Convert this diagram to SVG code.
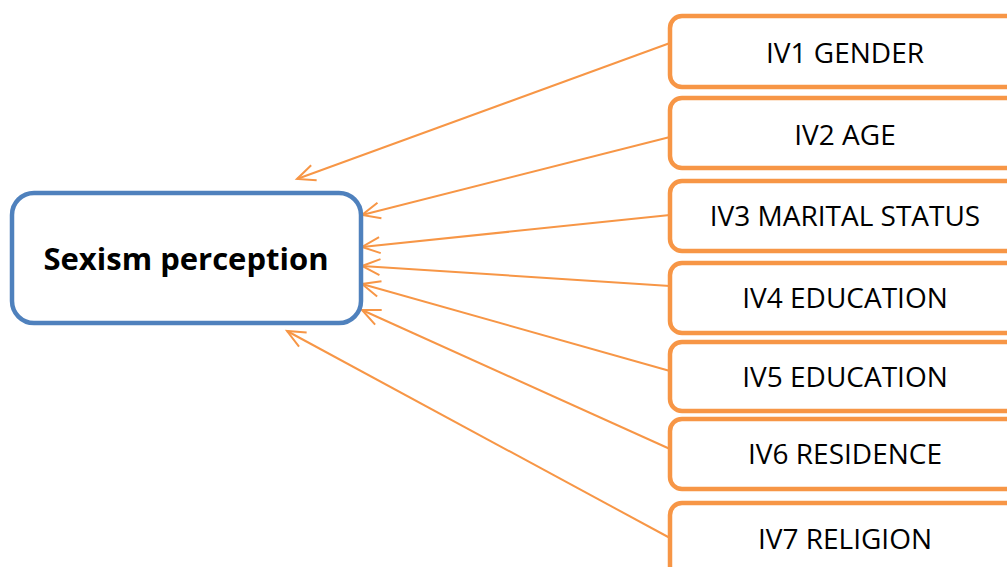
<svg xmlns="http://www.w3.org/2000/svg" width="1007" height="567" viewBox="0 0 1007 567">
<style>
.iv rect{fill:#fff;stroke:#F79646;stroke-width:4.5}
.iv text{font-family:"Open Sans",sans-serif;font-size:28px;fill:#000;text-anchor:middle}
.conn line{stroke:#F79646;stroke-width:2;fill:none}
</style>
<defs>
<marker id="ah" markerUnits="userSpaceOnUse" markerWidth="30" markerHeight="30" refX="0" refY="0" orient="auto" overflow="visible" viewBox="-25 -15 30 30">
<path d="M-18,-8 L0,0 L-18,8" fill="none" stroke="#F79646" stroke-width="2"/>
</marker>
</defs>
<rect width="1007" height="567" fill="#fff"/>
<g id="conns" class="conn">
<line x1="670" y1="43" x2="297" y2="179" marker-end="url(#ah)"/>
<line x1="670" y1="137" x2="362" y2="215" marker-end="url(#ah)"/>
<line x1="670" y1="215" x2="362" y2="247" marker-end="url(#ah)"/>
<line x1="670" y1="286" x2="362" y2="266" marker-end="url(#ah)"/>
<line x1="670" y1="371" x2="362" y2="284" marker-end="url(#ah)"/>
<line x1="670" y1="449" x2="362" y2="310" marker-end="url(#ah)"/>
<line x1="670" y1="538" x2="287" y2="331" marker-end="url(#ah)"/>
</g>
<g id="sexism">
<rect x="12" y="193" width="349" height="130" rx="22" fill="#fff" stroke="#4F81BD" stroke-width="4.5"/>
<text x="186" y="270" font-family="Open Sans, sans-serif" font-weight="bold" font-size="31" text-anchor="middle">Sexism perception</text>
</g>
<g id="iv1" class="iv"><rect x="670" y="16" width="400" height="71" rx="12"/><text x="845" y="63">IV1 GENDER</text></g>
<g id="iv2" class="iv"><rect x="670" y="98" width="400" height="70" rx="12"/><text x="845" y="145">IV2 AGE</text></g>
<g id="iv3" class="iv"><rect x="670" y="181" width="400" height="70" rx="12"/><text x="845" y="226">IV3 MARITAL STATUS</text></g>
<g id="iv4" class="iv"><rect x="670" y="263" width="400" height="70" rx="12"/><text x="845" y="308">IV4 EDUCATION</text></g>
<g id="iv5" class="iv"><rect x="670" y="342" width="400" height="69" rx="12"/><text x="845" y="387">IV5 EDUCATION</text></g>
<g id="iv6" class="iv"><rect x="670" y="419" width="400" height="70" rx="12"/><text x="845" y="464">IV6 RESIDENCE</text></g>
<g id="iv7" class="iv"><rect x="670" y="503" width="400" height="75" rx="12"/><text x="845" y="549">IV7 RELIGION</text></g>
</svg>
